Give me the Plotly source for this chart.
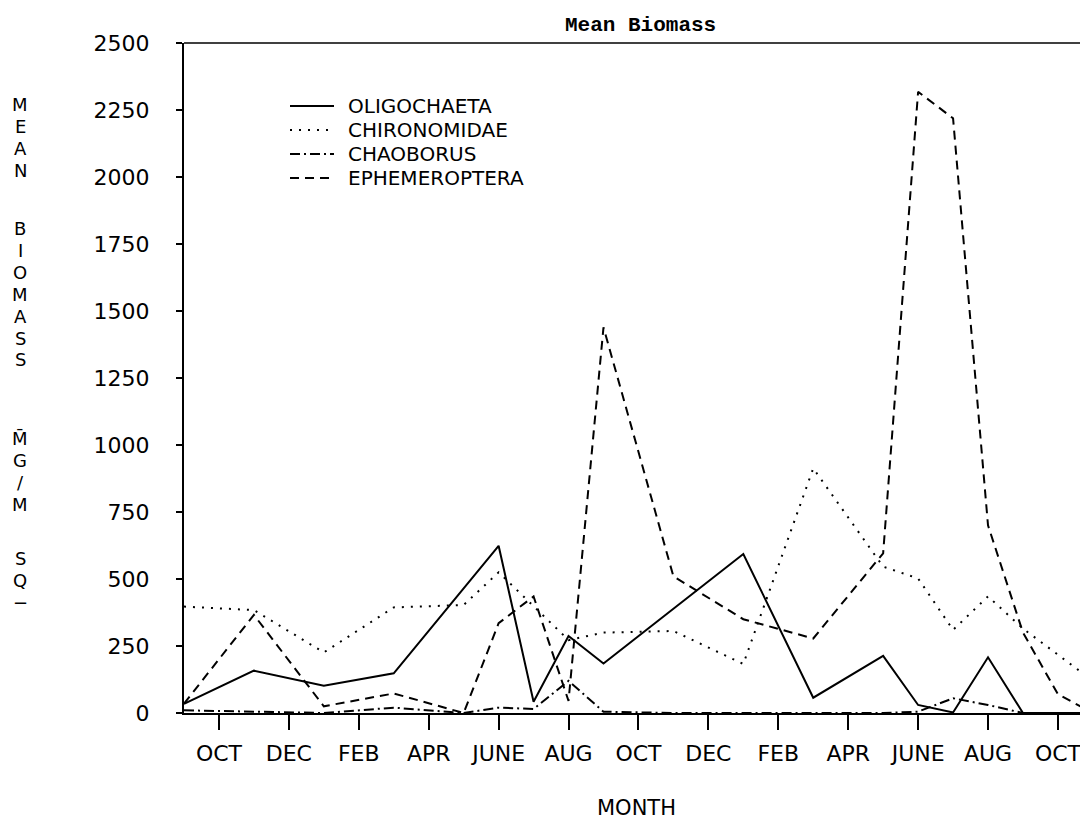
import plotly.graph_objects as go

# ---- data (month index: 0 = OCT of first year, -1 = SEP) ----
tick_months = [0, 2, 4, 6, 8, 10, 12, 14, 16, 18, 20, 22, 24]
tick_labels = ["OCT", "DEC", "FEB", "APR", "JUNE", "AUG", "OCT",
               "DEC", "FEB", "APR", "JUNE", "AUG", "OCT"]
y_ticks = [0, 250, 500, 750, 1000, 1250, 1500, 1750, 2000, 2250, 2500]

oligo_month = [-1, 1, 3, 5, 8, 9, 10, 11, 15, 17, 19, 20, 21, 22, 23, 25]
oligo_vals = [34, 158, 102, 148, 624, 42, 287, 185, 593, 57, 213, 30, 2, 208, 0, 0]

chiro_month = [-1, 1, 3, 5, 7, 8, 10, 11, 13, 15, 17, 19, 20, 21, 22, 23, 25]
chiro_vals = [397, 384, 226, 394, 403, 525, 272, 300, 306, 183, 913, 546, 502, 310, 435, 315, 120]

chaob_month = [-1, 1, 3, 5, 7, 8, 9, 10, 11, 13, 15, 17, 19, 20, 21, 22, 23, 25]
chaob_vals = [10, 5, 0, 20, 0, 20, 15, 120, 5, 0, 0, 0, 0, 5, 55, 30, 0, 0]

ephem_month = [-1, 1, 3, 5, 7, 8, 9, 10, 11, 13, 15, 17, 19, 20, 21, 22, 23, 24, 25]
ephem_vals = [35, 366, 25, 73, 0, 335, 435, 45, 1439, 510, 350, 278, 596, 2318, 2219, 700, 300, 70, 0]

series_names = ["OLIGOCHAETA", "CHIRONOMIDAE", "CHAOBORUS", "EPHEMEROPTERA"]
series_dash = ["solid", "2px,7px", "10px,4px,2px,4px", "9px,6px"]

FONT = "DejaVu Sans"
TITLE_FONT = "Liberation Mono"

# page pixel -> paper coordinate helpers (plot area: x 184..1088, y 43..713 on the page)
def px(xp):
    return (xp - 184) / 904.0

def py(yp):
    return (713 - yp) / 670.0

fig = go.Figure()
for xs, ys, nm, ds in zip([oligo_month, chiro_month, chaob_month, ephem_month],
                          [oligo_vals, chiro_vals, chaob_vals, ephem_vals],
                          series_names, series_dash):
    fig.add_trace(go.Scatter(x=xs, y=ys, mode="lines", name=nm,
                             line=dict(color="black", width=2, dash=ds)))

# page has an 8px body margin, so the figure is 8px smaller than the window
fig.update_layout(
    width=1080, height=813, autosize=False,
    margin=dict(l=176, r=0, t=35, b=108, pad=0),
    paper_bgcolor="white", plot_bgcolor="white",
    font=dict(family=FONT, color="black", size=22),
    showlegend=False,
)
fig.update_xaxes(
    range=[-1, 24.86], tickmode="array", tickvals=tick_months, ticktext=tick_labels,
    ticks="outside", ticklen=15, tickwidth=2, tickcolor="black",
    showline=True, linecolor="black", linewidth=2, mirror=False,
    showgrid=False, zeroline=False, ticklabelstandoff=5,
    tickfont=dict(family=FONT, size=22),
)
fig.update_yaxes(
    range=[0, 2500], tickmode="array", tickvals=y_ticks,
    ticks="outside", ticklen=6, tickwidth=2, tickcolor="black",
    showline=True, linecolor="black", linewidth=2,
    showgrid=False, zeroline=False, ticklabelstandoff=22,
    tickfont=dict(family=FONT, size=22),
)

# top frame line
fig.add_shape(type="line", xref="paper", yref="paper", x0=0, x1=1, y0=1, y1=1,
              line=dict(color="black", width=1.5))

# legend drawn in place (tight rows as in the original)
legend_rows = [106, 130, 154, 178]
for nm, ds, yp in zip(series_names, series_dash, legend_rows):
    fig.add_shape(type="line", xref="paper", yref="paper",
                  x0=px(290), x1=px(334), y0=py(yp), y1=py(yp),
                  line=dict(color="black", width=2, dash=ds))
    fig.add_annotation(text=nm, xref="paper", yref="paper", x=px(346), y=py(yp),
                       showarrow=False, xanchor="left", yanchor="middle",
                       font=dict(family=FONT, size=20, color="black"))

# title
fig.add_annotation(text="<b>Mean Biomass</b>", xref="paper", yref="paper",
                   x=px(640), y=py(25), showarrow=False,
                   xanchor="center", yanchor="middle",
                   font=dict(family=TITLE_FONT, size=21, color="black"))
# x-axis title
fig.add_annotation(text="MONTH", xref="paper", yref="paper",
                   x=px(636), y=py(808), showarrow=False,
                   xanchor="center", yanchor="middle",
                   font=dict(family=FONT, size=21, color="black"))

# vertical stacked y-axis title, one character per row
ytitle_chars = ["M", "E", "A", "N",
                "B", "I", "O", "M", "A", "S", "S",
                "M\u0304", "G", "/", "M",
                "S", "Q", "\u2212"]
ytitle_rows = [104, 126, 148, 170,
               228, 250, 272, 294, 316, 338, 360,
               438, 460, 482, 504,
               558, 580, 602]
for ch, yp in zip(ytitle_chars, ytitle_rows):
    fig.add_annotation(text=ch, xref="paper", yref="paper", x=px(20), y=py(yp),
                       showarrow=False, xanchor="center", yanchor="middle",
                       font=dict(family=FONT, size=18, color="black"))

fig.write_html("out.html")
